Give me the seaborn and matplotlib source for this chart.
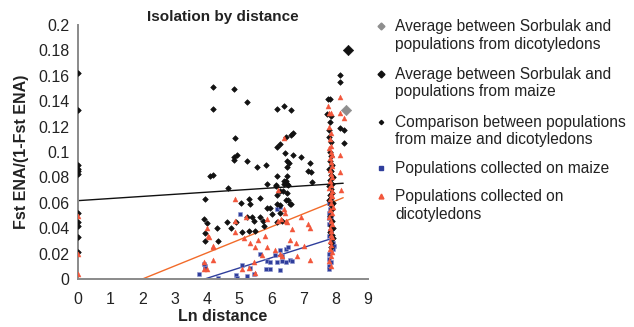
import numpy as np
import pandas as pd
import matplotlib
matplotlib.use("Agg")
import matplotlib.pyplot as plt
import seaborn as sns
from matplotlib.lines import Line2D

sns.set_style("white")
plt.rcParams['font.family'] = ['Liberation Sans', 'DejaVu Sans']

# ---------------- data ----------------
comp_x = [0, 0, 0, 0, 0, 0, 0, 0, 0, 0, 0,
          4.2, 4.2, 4.85, 5.25, 4.86, 4.85, 4.95, 4.85, 5.25, 5.55, 5.84,
          6.17, 6.4, 6.6, 6.17, 6.27, 6.45, 6.6, 6.68, 6.43, 6.67, 6.92,
          6.5, 6.55, 6.5, 7.2, 7.15, 7.22, 4.1, 4.2, 6.17, 6.38, 6.5,
          5.86, 6.15, 6.38, 6.5, 4.65, 7.25,
          3.94, 3.91, 4.0, 4.3, 3.94, 3.94, 4.35, 4.62, 4.75, 4.9, 5.05,
          5.1, 5.24, 5.32, 5.34, 5.4, 5.45, 5.5, 5.32, 5.65, 5.65, 5.75,
          5.77, 5.86, 5.96, 6.01, 6.17, 6.19, 6.26, 6.28, 6.33, 6.45, 6.52,
          6.57, 6.62, 6.5, 6.26, 6.15, 6.36, 6.52, 6.45, 6.19,
          7.83, 7.76, 7.72, 7.85, 7.82, 7.78, 7.80, 7.85, 7.82, 7.86, 7.83,
          7.88, 7.80, 7.86, 7.84, 7.90, 7.82, 7.87, 7.80, 7.85, 7.88, 7.83,
          7.86, 7.80, 7.90, 7.84, 7.87, 7.82, 7.88, 7.85, 7.90, 7.83, 7.87,
          7.92, 7.86, 7.84, 8.14, 8.14, 8.14, 8.24, 8.24]
comp_y = [0.162, 0.133, 0.090, 0.087, 0.085, 0.083, 0.052, 0.045, 0.042, 0.033, 0.021,
          0.151, 0.134, 0.150, 0.139, 0.111, 0.096, 0.098, 0.094, 0.093, 0.088, 0.090,
          0.134, 0.136, 0.133, 0.104, 0.106, 0.112, 0.113, 0.115, 0.099, 0.098, 0.096,
          0.093, 0.091, 0.088, 0.091, 0.085, 0.084, 0.081, 0.082, 0.081, 0.077, 0.081,
          0.075, 0.074, 0.075, 0.075, 0.072, 0.076,
          0.063, 0.047, 0.044, 0.040, 0.036, 0.030, 0.030, 0.045, 0.040, 0.045, 0.060,
          0.037, 0.049, 0.063, 0.059, 0.049, 0.046, 0.038, 0.038, 0.064, 0.049, 0.046,
          0.042, 0.056, 0.056, 0.051, 0.066, 0.059, 0.058, 0.052, 0.046, 0.062, 0.062,
          0.059, 0.059, 0.068, 0.069, 0.073, 0.069, 0.074, 0.077, 0.045,
          0.142, 0.142, 0.130, 0.128, 0.124, 0.117, 0.112, 0.108, 0.100, 0.097, 0.093,
          0.090, 0.087, 0.085, 0.082, 0.080, 0.078, 0.075, 0.073, 0.071, 0.068, 0.066,
          0.064, 0.062, 0.060, 0.058, 0.055, 0.050, 0.046, 0.042, 0.040, 0.037, 0.035,
          0.032, 0.028, 0.025, 0.161, 0.155, 0.119, 0.117, 0.107]

maize_x = [3.74, 3.95, 3.95, 3.94, 3.92, 4.35, 4.9, 4.92, 5.04, 5.64, 5.34, 5.47,
           5.24, 5.08, 5.86, 5.96, 5.84, 6.17, 6.27, 6.26, 6.45, 6.52, 6.32, 6.19,
           6.32, 6.27, 6.47, 6.58, 6.63, 5.96, 6.1,
           7.78, 7.82, 7.80, 7.86, 7.78, 7.84, 7.80, 7.88, 7.82, 7.86, 7.80, 7.84,
           7.88, 7.92, 7.95, 7.90, 7.86, 7.78, 7.80, 7.86, 7.78, 7.80]
maize_y = [0.004, 0.010, 0.008, 0.009, 0.012, 0.001, 0.003, 0.001, 0.051, 0.020, 0.009, 0.004,
           0.002, 0.011, 0.014, 0.013, 0.008, 0.055, 0.057, 0.023, 0.024, 0.025, 0.018, 0.013,
           0.014, 0.007, 0.013, 0.015, 0.014, 0.008, 0.019,
           0.060, 0.055, 0.052, 0.050, 0.048, 0.045, 0.043, 0.040, 0.038, 0.036, 0.034, 0.032,
           0.030, 0.028, 0.026, 0.024, 0.022, 0.020, 0.016, 0.013, 0.010, 0.008]

dicot_x = [0, 0, 0,
           6.4, 6.2, 4.86, 5.86, 5.22, 6.2, 6.3, 6.45, 6.5, 6.63, 6.93, 7.13, 7.2,
           7.0, 7.2, 4.05, 4.2, 4.2, 3.9, 3.9, 4.0, 4.87, 4.87, 5.14, 5.34, 5.5,
           5.6, 5.8, 5.86, 6.12, 6.27, 6.32, 5.7, 5.45, 5.3, 5.1, 5.5, 6.58, 6.77,
           6.79, 6.43, 6.38, 4.08, 4.18, 4.0,
           7.76, 7.78, 7.86, 8.14, 8.14, 8.24, 7.80, 7.84, 7.82, 7.86, 7.80, 7.85,
           7.88, 7.82, 7.84, 7.87, 7.81, 7.86, 7.89, 7.83, 7.86, 7.80, 7.88, 7.84,
           7.87, 7.82, 7.86, 7.90, 7.83, 7.87, 7.80, 7.85, 7.88, 7.82, 7.86, 7.84,
           7.89, 7.81, 7.85, 7.83, 7.87, 7.84, 7.80, 7.86, 8.14, 8.12, 8.15]
dicot_y = [0.050, 0.020, 0.004,
           0.111, 0.070, 0.063, 0.047, 0.049, 0.046, 0.047, 0.046, 0.045, 0.039, 0.049, 0.043, 0.040,
           0.026, 0.015, 0.034, 0.026, 0.015, 0.013, 0.008, 0.008, 0.046, 0.037, 0.032, 0.028, 0.025,
           0.031, 0.034, 0.025, 0.023, 0.020, 0.018, 0.019, 0.013, 0.009, 0.008, 0.005, 0.031, 0.028,
           0.018, 0.052, 0.055, 0.033, 0.025, 0.040,
           0.136, 0.131, 0.131, 0.1435, 0.131, 0.127, 0.120, 0.115, 0.110, 0.105, 0.103, 0.100,
           0.098, 0.095, 0.092, 0.089, 0.086, 0.083, 0.080, 0.077, 0.074, 0.072, 0.069, 0.067,
           0.065, 0.063, 0.060, 0.057, 0.054, 0.052, 0.049, 0.046, 0.043, 0.040, 0.038, 0.035,
           0.033, 0.030, 0.027, 0.024, 0.021, 0.018, 0.014, 0.010, 0.098, 0.084, 0.070]

avg_dicot_x = [8.33]
avg_dicot_y = [0.133]
avg_maize_x = [8.37]
avg_maize_y = [0.18]

# linear trend lines (end points)
trend_comp_x = [0.0, 8.23]
trend_comp_y = [0.0617, 0.0754]
trend_dicot_x = [2.0, 8.23]
trend_dicot_y = [0.0, 0.064]
trend_maize_x = [3.93, 7.83]
trend_maize_y = [0.0, 0.0315]

legend_labels = [
    ["Average between Sorbulak and", "populations from dicotyledons"],
    ["Average between Sorbulak and", "populations from maize"],
    ["Comparison between populations", "from maize and dicotyledons"],
    ["Populations collected on maize"],
    ["Populations collected on", "dicotyledons"],
]

C_BLACK = "#111111"
C_RED = "#F2573C"
C_BLUE = "#2F3E9C"
C_ORANGE = "#F26B2A"
C_GREY = "#8E8E8E"
C_AXIS = "#8A8A8A"

# ---------------- figure ----------------
fig = plt.figure(figsize=(6.34, 3.27), dpi=100)
ax = fig.add_axes([78/634, 48/327, 290/634, 254/327])

sns.lineplot(x=trend_comp_x, y=trend_comp_y, ax=ax, color=C_BLACK, lw=1.0, zorder=1)
sns.lineplot(x=trend_dicot_x, y=trend_dicot_y, ax=ax, color=C_ORANGE, lw=1.0, zorder=1)
sns.lineplot(x=trend_maize_x, y=trend_maize_y, ax=ax, color=C_BLUE, lw=1.0, zorder=1)

sns.scatterplot(x=comp_x, y=comp_y, ax=ax, marker="D", s=8, color=C_BLACK,
                edgecolor=C_BLACK, linewidth=0.5, zorder=3)
sns.scatterplot(x=dicot_x, y=dicot_y, ax=ax, marker="^", s=13, color=C_RED,
                edgecolor=C_RED, linewidth=0.3, zorder=3)
sns.scatterplot(x=maize_x, y=maize_y, ax=ax, marker="s", s=11, color=C_BLUE,
                edgecolor="#8f98d0", linewidth=0.4, zorder=2)
sns.scatterplot(x=avg_dicot_x, y=avg_dicot_y, ax=ax, marker="D", s=28, color=C_GREY,
                edgecolor=C_GREY, zorder=4)
sns.scatterplot(x=avg_maize_x, y=avg_maize_y, ax=ax, marker="D", s=28, color=C_BLACK,
                edgecolor=C_BLACK, zorder=4)

ax.set_xlim(0, 9)
ax.set_ylim(0, 0.2)
ax.set_xticks(range(0, 10))
ax.set_yticks([0, 0.02, 0.04, 0.06, 0.08, 0.1, 0.12, 0.14, 0.16, 0.18, 0.2])
ax.set_yticklabels(["0", "0.02", "0.04", "0.06", "0.08", "0.1", "0.12", "0.14",
                    "0.16", "0.18", "0.2"])
for s in ["top", "right"]:
    ax.spines[s].set_visible(False)
for s in ["left", "bottom"]:
    ax.spines[s].set_color(C_AXIS)
    ax.spines[s].set_linewidth(1.4)
ax.tick_params(axis="both", direction="out", length=3, width=1, color=C_AXIS,
               labelsize=11.5, labelcolor="#222222")
ax.tick_params(axis="x", pad=6)
ax.tick_params(axis="y", pad=3)

ax.set_title("Isolation by distance", fontsize=11, fontweight="bold", color="#222222", pad=3)
ax.set_xlabel("Ln distance", fontsize=11.5, fontweight="bold", color="#222222", labelpad=2)
ax.set_ylabel("Fst ENA/(1-Fst ENA)", fontsize=11.5, fontweight="bold", color="#222222", labelpad=7)

# ---------------- manual legend ----------------
W, H = 634, 327
leg_markers = [("D", C_GREY, 3.5), ("D", C_BLACK, 3.5), ("D", C_BLACK, 2.2),
               ("s", C_BLUE, 3.2), ("^", C_RED, 3.5)]
first_line_y = [26, 74, 122, 168, 196]
line_h = 18
for (mk, col, ms), lines, y0 in zip(leg_markers, legend_labels, first_line_y):
    fig.add_artist(Line2D([381 / W], [1 - y0 / H], marker=mk, color=col,
                          markersize=ms, linestyle="none", transform=fig.transFigure))
    for i, t in enumerate(lines):
        fig.text(395 / W, 1 - (y0 + i * line_h) / H, t, fontsize=11.2,
                 color="#222222", va="center", ha="left")

fig.savefig("out.png", dpi=100)
